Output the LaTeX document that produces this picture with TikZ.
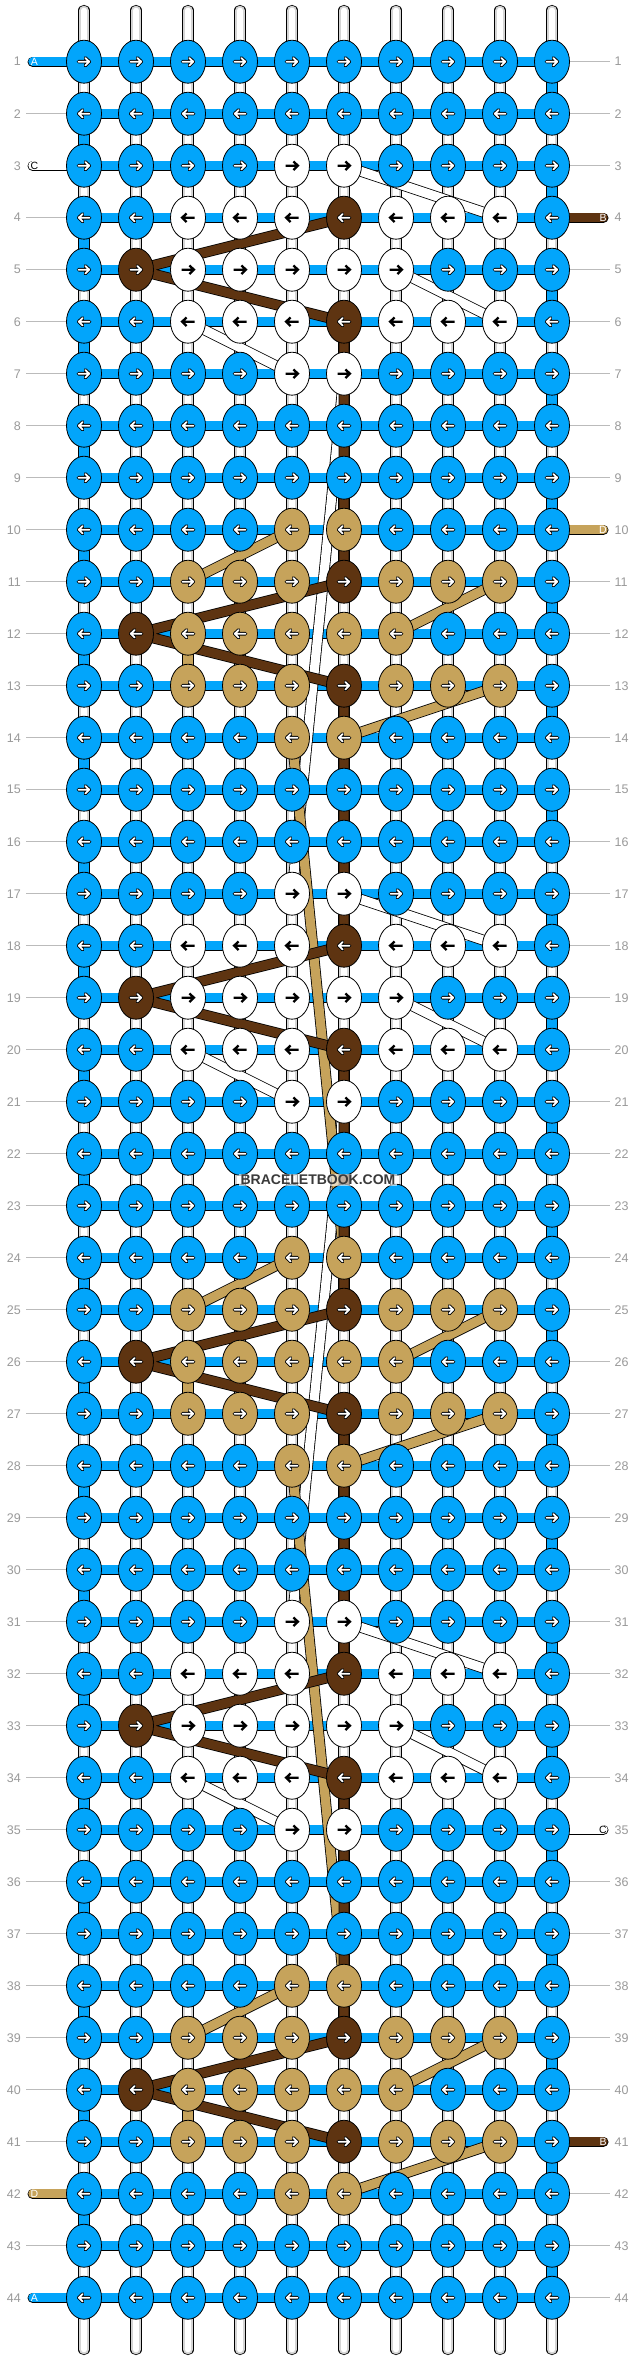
\documentclass[tikz,border=0pt]{standalone}
\usepackage{fontspec}
\setmainfont{Liberation Sans}
\usetikzlibrary{shapes.geometric}
\definecolor{kblue}{HTML}{02A5FB}
\definecolor{ktan}{HTML}{C6A35B}
\definecolor{kbrown}{HTML}{5E3411}
\definecolor{kwhite}{HTML}{FFFFFF}
\definecolor{lblgray}{HTML}{9A9A9A}
\definecolor{guidegray}{HTML}{BBBBBB}
\definecolor{strandgray}{HTML}{D4D4D4}
\definecolor{wmtext}{HTML}{3A3A3A}
\pgfdeclarelayer{bg}\pgfdeclarelayer{strings}\pgfdeclarelayer{bars}\pgfdeclarelayer{bands}
\pgfsetlayers{bg,strings,bars,bands,main}
\tikzset{
 knot/.style={ellipse, draw=black, line width=0.8pt, minimum width=35pt, minimum height=43pt, inner sep=0pt},
 knot-b/.style={fill=kblue}, knot-w/.style={fill=kwhite}, knot-t/.style={fill=ktan}, knot-n/.style={fill=kbrown},
 strand/.style={draw=black, line width=0.8pt, double=strandgray, double distance=9.6pt, postaction={draw=white, line width=5.5pt}},
 edgestrand/.style={draw=black, line width=0.8pt, double=kblue, double distance=9.6pt},
 hbar/.style={draw=black, line width=0.8pt, double=kblue, double distance=8.6pt},
 band/.style={draw=black, line width=0.8pt, double=#1, double distance=9.2pt, line join=round},
 tail/.style={draw=black, line width=0.8pt, double=#1, double distance=8.6pt, line cap=round},
 rowlbl/.style={text=lblgray, font=\fontsize{12.5}{14}\selectfont, inner sep=0pt},
 taillbl/.style={font=\fontsize{10.5}{12}\selectfont, inner sep=0pt, text=#1},
 guide/.style={draw=guidegray, line width=0.9pt},
 pics/whtarrow/.style={code={
   \draw[black,line width=3.6pt,line cap=round,line join=round] (-5.5,0)--(5,0) (1.3,-3.8)--(5.2,0)--(1.3,3.8);
   \draw[white,line width=1.8pt,line cap=round,line join=round] (-5.5,0)--(5,0) (1.3,-3.8)--(5.2,0)--(1.3,3.8);
 }},
 pics/blkarrow/.style={code={
   \draw[black,line width=2.3pt,line cap=butt,line join=miter] (-6.5,0)--(5.5,0) (1.4,-4.3)--(5.9,0)--(1.4,4.3);
 }},
}
\begin{document}
\begin{tikzpicture}[x=1pt,y=-1pt]
\begin{pgfonlayer}{bg}
\fill[white] (0,0) rectangle (636,2360);
\end{pgfonlayer}
\useasboundingbox (0,0) rectangle (636,2360);
% knots
\foreach \r in {1,...,44}{
 \pgfmathtruncatemacro\m{mod(\r+11,14)}
 \pgfmathsetmacro\y{61.7+52*(\r-1)}
 \ifodd\r \def\dir{1}\else\def\dir{-1}\fi
 \ifcase\m \def\rowcode{b,b,b,b,w,w,b,b,b,b}%
 \or \def\rowcode{b,b,w,w,w,n,w,w,w,b}%
 \or \def\rowcode{b,n,w,w,w,w,w,b,b,b}%
 \or \def\rowcode{b,b,w,w,w,n,w,w,w,b}%
 \or \def\rowcode{b,b,b,b,w,w,b,b,b,b}%
 \or \def\rowcode{b,b,b,b,b,b,b,b,b,b}%
 \or \def\rowcode{b,b,b,b,b,b,b,b,b,b}%
 \or \def\rowcode{b,b,b,b,t,t,b,b,b,b}%
 \or \def\rowcode{b,b,t,t,t,n,t,t,t,b}%
 \or \def\rowcode{b,n,t,t,t,t,t,b,b,b}%
 \or \def\rowcode{b,b,t,t,t,n,t,t,t,b}%
 \or \def\rowcode{b,b,b,b,t,t,b,b,b,b}%
 \else \def\rowcode{b,b,b,b,b,b,b,b,b,b}%
 \fi
 \foreach \col [count=\c] in \rowcode {
   \pgfmathsetmacro\x{84+52*(\c-1)}
   \node[knot, knot-\col] (k\r-\c) at (\x,\y) {};
   \if w\col \pic[xscale=\dir] at (\x,\y) {blkarrow};\else \pic[xscale=\dir] at (\x,\y) {whtarrow};\fi
 }
 \node[rowlbl, anchor=east] (ll\r) at (21,\y) {\r};
 \node[rowlbl, anchor=west] (rl\r) at (614.5,\y) {\r};
}
% vertical strands
\begin{pgfonlayer}{strings}
\foreach \c in {1,...,10}{
 \pgfmathsetmacro\x{84+52*(\c-1)}
 \coordinate (top-\c) at (\x,10.5);
 \coordinate (bot-\c) at (\x,2349.5);
 \draw[strand,line cap=round] (top-\c) -- (k1-\c.center);
 \draw[strand,line cap=round] (bot-\c) -- (k44-\c.center);
 \foreach \r in {1,...,43}{
   \pgfmathtruncatemacro\rr{\r+1}
   \draw[strand] (k\r-\c.center) -- (k\rr-\c.center);
 }
}
\foreach \r in {1,3,...,43}{\pgfmathtruncatemacro\rr{\r+1}\draw[edgestrand] (k\r-10.center) -- (k\rr-10.center);}
\foreach \r in {2,4,...,42}{\pgfmathtruncatemacro\rr{\r+1}\draw[edgestrand] (k\r-1.center) -- (k\rr-1.center);}
\end{pgfonlayer}
% horizontal bars, tails, guides
\begin{pgfonlayer}{bars}
\foreach \r in {1,...,44}{
 \foreach \c in {1,...,9}{
   \pgfmathtruncatemacro\cc{\c+1}
   \draw[hbar] (k\r-\c.center) -- (k\r-\cc.center);
 }
}
\foreach \r in {2,4,5,...,41,43}{
 \pgfmathsetmacro\y{61.7+52*(\r-1)}
 \coordinate (lg\r) at (26,\y);
 \draw[guide] (lg\r) -- (k\r-1.west);
}
\foreach \r in {1,2,3,5,6,...,9,11,12,...,34,36,37,...,40,42,43,44}{
 \pgfmathsetmacro\y{61.7+52*(\r-1)}
 \coordinate (rg\r) at (610,\y);
 \draw[guide] (k\r-10.east) -- (rg\r);
}
\foreach \r/\col in {1/kblue,3/kwhite,42/ktan,44/kblue}{
 \pgfmathsetmacro\y{61.7+52*(\r-1)}
 \coordinate (lt\r) at (32.6,\y);
 \draw[tail=\col] (lt\r) -- (k\r-1.center);
}
\foreach \r/\col in {4/kbrown,10/ktan,35/kwhite,41/kbrown}{
 \pgfmathsetmacro\y{61.7+52*(\r-1)}
 \coordinate (rt\r) at (603.4,\y);
 \draw[tail=\col] (k\r-10.center) -- (rt\r);
}
\end{pgfonlayer}
% thread paths
\begin{pgfonlayer}{bands}
\foreach \w in {3,17,31}{
 \pgfmathtruncatemacro\wa{\w+1}\pgfmathtruncatemacro\wb{\w+2}
 \pgfmathtruncatemacro\wc{\w+3}\pgfmathtruncatemacro\wd{\w+4}\pgfmathtruncatemacro\we{\w+14}
 \draw[band=white] (k\w-6.center) -- (k\wa-9.center);
 \draw[band=white] (k\wb-7.center) -- (k\wc-9.center);
 \draw[band=white] (k\wc-3.center) -- (k\wd-5.center);
 \ifnum\w<31 \draw[band=white] (k\wd-6.center) -- (k\we-5.center);\fi
}
\foreach \t in {10,24,38}{
 \pgfmathtruncatemacro\ta{\t+1}\pgfmathtruncatemacro\tb{\t+2}
 \pgfmathtruncatemacro\tc{\t+3}\pgfmathtruncatemacro\td{\t+4}\pgfmathtruncatemacro\te{\t+14}
 \draw[band=ktan] (k\t-5.center) -- (k\ta-3.center);
 \draw[band=ktan] (k\tb-3.center) -- (k\tc-3.center);
 \draw[band=ktan] (k\ta-9.center) -- (k\tb-7.center);
 \draw[band=ktan] (k\tc-9.center) -- (k\td-6.center);
 \ifnum\t<38 \draw[band=ktan] (k\td-5.center) -- (k\te-6.center);\fi
}
\draw[band=kbrown] (k4-6.center) -- (k5-2.center) -- (k6-6.center) -- (k11-6.center)
  -- (k12-2.center) -- (k13-6.center) -- (k18-6.center) -- (k19-2.center) -- (k20-6.center)
  -- (k25-6.center) -- (k26-2.center) -- (k27-6.center) -- (k32-6.center) -- (k33-2.center)
  -- (k34-6.center) -- (k39-6.center) -- (k40-2.center) -- (k41-6.center);
\end{pgfonlayer}
% tail labels
\node[taillbl=white] (la1) at (34.5,61.7) {A};
\node[taillbl=black] (la3) at (34.5,165.7) {C};
\node[taillbl=white] (la42) at (34.5,2193.7) {D};
\node[taillbl=white] (la44) at (34.5,2297.7) {A};
\node[taillbl=white] (ra4) at (603,217.7) {B};
\node[taillbl=white] (ra10) at (603,529.7) {D};
\node[taillbl=black] (ra35) at (603,1829.7) {C};
\node[taillbl=white] (ra41) at (603,2141.7) {B};
% watermark
\node[font=\bfseries\fontsize{14}{16}\selectfont, text=wmtext, fill=white, fill opacity=0.6, text opacity=1, inner sep=1.5pt] (wm) at (318,1180) {BRACELETBOOK.COM};
\end{tikzpicture}
\end{document}
